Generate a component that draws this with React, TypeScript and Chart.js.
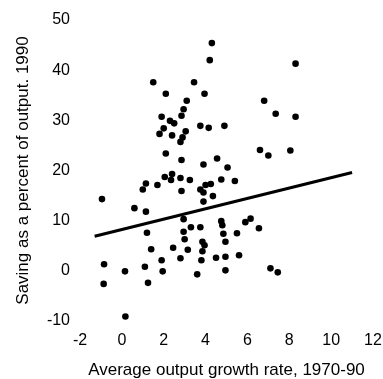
import React, { useEffect, useRef } from "react";
import { Chart, registerables } from "chart.js";

Chart.register(...registerables);

// Scatter observations: average output growth rate (1970-90, %) vs saving as % of output (1990)
const growthRates: number[] = [
  4.3, 4.2, 8.3, 1.5, 3.45, 2.1, 3.95, 3.1, 6.8, 2.95,
  2.85, 7.35, 8.3, 1.9, 2.3, 2.5, 2.0, 1.8, 2.4, 3.05,
  2.9, 2.8, 3.75, 4.15, 4.9, 6.6, 7.0, 8.05, 2.1, 2.85,
  4.55, 3.9, 5.05, 2.4, 2.05, 2.35, 2.8, 3.25, 4.75, 5.4,
  1.15, 1.7, 1.0, 2.85, 3.75, 4.0, 4.25, 3.9, 4.35, 3.9,
  -0.95, 0.6, 1.15, 2.95, 3.3, 3.75, 4.75, 4.8, 5.9, 6.15,
  6.55, 1.2, 2.95, 3.0, 4.85, 5.5, 3.85, 3.95, 4.95, 1.4,
  2.45, 3.15, 3.85, 2.8, 1.9, 3.8, 4.5, 4.95, 5.6, -0.85,
  1.1, 0.15, 1.95, 4.95, 3.6, 7.1, 7.45, -0.87, 1.25, 0.17,
];
const savingRates: number[] = [
  45.4, 42.0, 41.3, 37.6, 37.6, 35.3, 35.3, 33.9, 33.9, 32.2,
  30.9, 31.3, 30.7, 30.7, 29.9, 29.4, 28.4, 27.3, 27.0, 27.8,
  26.6, 25.7, 28.9, 28.5, 28.9, 24.1, 23.0, 24.0, 23.4, 22.1,
  22.4, 21.2, 20.6, 19.3, 18.7, 18.1, 18.5, 18.1, 18.2, 17.9,
  17.4, 17.1, 16.2, 15.9, 16.2, 17.1, 17.3, 15.6, 14.9, 13.8,
  14.3, 12.5, 11.8, 10.3, 8.7, 8.7, 9.9, 9.1, 9.7, 10.4,
  8.5, 7.6, 7.8, 6.3, 7.4, 7.5, 5.8, 5.1, 5.8, 4.3,
  4.6, 4.2, 3.9, 2.5, 2.1, 2.1, 2.6, 2.8, 3.1, 1.3,
  0.8, -0.1, -0.1, 0.1, -0.7, 0.5, -0.3, -2.6, -2.4, -9.1,
];

// Fitted regression line end points
const fitX: number[] = [-1.3, 11.0];
const fitY: number[] = [6.9, 19.6];

// Axis settings
const xMin = -2;
const xMax = 12;
const xStep = 2;
const yMin = -10;
const yMax = 50;
const yStep = 10;

const xTitle = "Average output growth rate, 1970-90";
const yTitle = "Saving as a percent of output. 1990";

const FONT = "'Liberation Sans', Arial, Helvetica, sans-serif";

export default function App() {
  const ref = useRef<HTMLCanvasElement | null>(null);

  useEffect(() => {
    if (!ref.current) return;
    const points = growthRates.map((x, i) => ({ x, y: savingRates[i] }));
    const fit = fitX.map((x, i) => ({ x, y: fitY[i] }));
    const chart = new Chart(ref.current, {
      type: "scatter",
      data: {
        datasets: [
          {
            type: "line",
            data: fit,
            borderColor: "#000",
            borderWidth: 3,
            pointRadius: 0,
            fill: false,
            order: 0,
          } as any,
          {
            type: "scatter",
            data: points,
            backgroundColor: "#000",
            borderColor: "#000",
            borderWidth: 0,
            pointRadius: 3.3,
            order: 1,
          },
        ],
      },
      options: {
        animation: false,
        responsive: false,
        devicePixelRatio: 1,
        layout: { padding: { top: 20, right: 10, left: 0, bottom: 0 } },
        plugins: {
          legend: { display: false },
          tooltip: { enabled: false },
        },
        scales: {
          x: {
            type: "linear",
            min: xMin,
            max: xMax,
            border: { display: false },
            grid: { display: false, drawTicks: false },
            ticks: {
              stepSize: xStep,
              padding: 10,
              color: "#000",
              font: { family: FONT, size: 16 },
            },
            title: {
              display: true,
              text: xTitle,
              color: "#000",
              padding: { top: 0, bottom: 0 },
              font: { family: FONT, size: 17, lineHeight: 1 },
            },
            afterFit: (scale: any) => {
              scale.height = 58;
              scale.paddingLeft = 0;
              scale.paddingRight = 0;
            },
          },
          y: {
            type: "linear",
            min: yMin,
            max: yMax,
            border: { display: false },
            grid: { display: false, drawTicks: false },
            ticks: {
              stepSize: yStep,
              padding: 10,
              color: "#000",
              font: { family: FONT, size: 16 },
            },
            title: {
              display: true,
              text: yTitle,
              color: "#000",
              padding: { top: 15, bottom: 0 },
              font: { family: FONT, size: 17, lineHeight: 1 },
            },
            afterFit: (scale: any) => {
              scale.width = 80;
            },
          },
        },
      },
    });
    return () => chart.destroy();
  }, []);

  return (
    <div
      style={{
        position: "fixed",
        left: 0,
        top: 0,
        width: 383,
        height: 379,
        background: "#fff",
      }}
    >
      <canvas ref={ref} width={383} height={379} style={{ width: 383, height: 379 }} />
    </div>
  );
}
